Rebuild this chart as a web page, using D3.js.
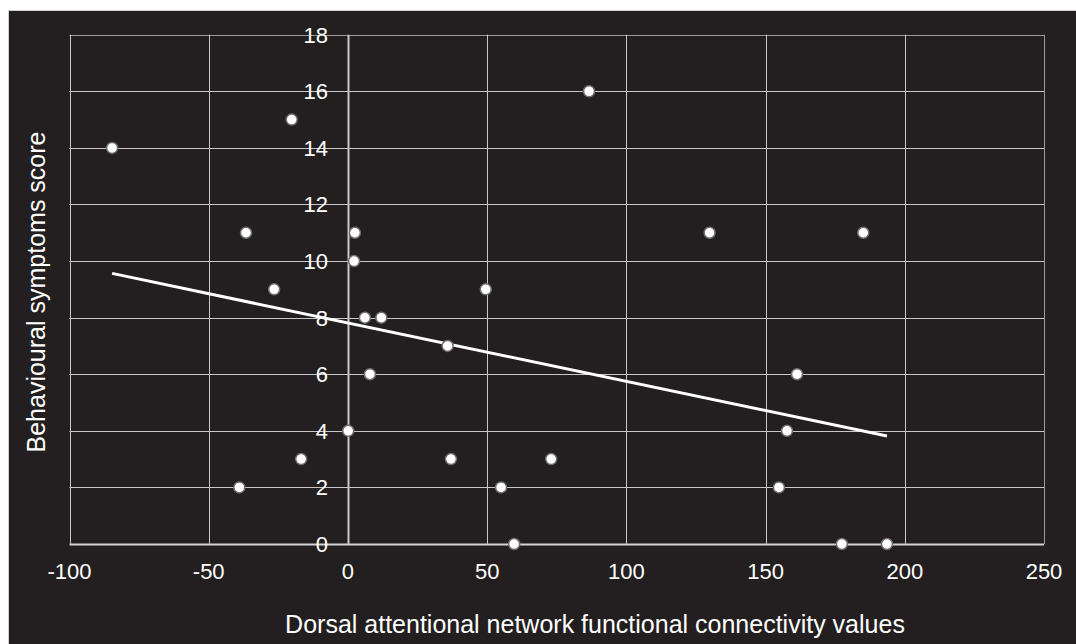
<!DOCTYPE html>
<html>
<head>
<meta charset="utf-8">
<script src="https://cdn.jsdelivr.net/npm/d3@7"></script>
<style>
  body { margin: 0; background: #fff; }
  svg { display: block; }
  text { font-family: "Liberation Sans", Arial, sans-serif; fill: #fff; }
</style>
</head>
<body>
<div id="chart"></div>
<script>
// connectivity values (x) and behavioural symptoms score (y)
var connectivity = [-84.7, -20.2, -36.6, -26.5, -39, -16.8, 0.1, 2.2, 2.5, 6.1, 12, 7.9, 35.8,
	37, 49.5, 55, 59.7, 73, 86.6, 129.9, 154.8, 157.7, 161.3, 177.4, 185.1, 193.6]
var symptoms = [14, 15, 11, 9, 2, 3, 4, 10, 11, 8, 8, 6, 7,
	3, 9, 2, 0, 3, 16, 11, 2, 4, 6, 0, 11, 0]
var xTicks = [-100, -50, 0, 50, 100, 150, 200, 250]
var yTicks = [0, 2, 4, 6, 8, 10, 12, 14, 16, 18]

var w = 1076, h = 644
var svg = d3.select("#chart").append("svg")
	.attr("width", w)
	.attr("height", h)

// dark panel
svg.append("rect")
	.attr("x", 8.5).attr("y", 10.5)
	.attr("width", w).attr("height", h)
	.attr("fill", "#231f20")
	.attr("stroke", "#cfcfcf")

var x = d3.scaleLinear().domain([-100, 250]).range([69.5, 1044])
var y = d3.scaleLinear().domain([0, 18]).range([544, 34.7])

var g = svg.append("g")

// grid lines
g.selectAll(".hgrid").data(yTicks).enter().append("line")
	.attr("x1", x(-100)).attr("x2", x(250))
	.attr("y1", d => Math.round(y(d)) + 0.5).attr("y2", d => Math.round(y(d)) + 0.5)
	.attr("stroke", d => d == 0 ? "#d4d4d4" : (d == 18 ? "#9a9a9a" : "#c8c8c8"))
	.attr("stroke-width", d => d == 0 ? 2 : 1)

g.selectAll(".vgrid").data(xTicks).enter().append("line")
	.attr("y1", y(18)).attr("y2", y(0))
	.attr("x1", d => Math.round(x(d)) + 0.5).attr("x2", d => Math.round(x(d)) + 0.5)
	.attr("stroke", d => d == 250 ? "#9a9a9a" : "#c8c8c8")
	.attr("stroke-width", d => d == 0 ? 2 : 1)

// tick labels
g.selectAll(".ylab").data(yTicks).enter().append("text")
	.attr("x", x(0) - 20)
	.attr("y", d => y(d) + 8)
	.attr("text-anchor", "end")
	.style("font-size", "22px")
	.text(d => d)

g.selectAll(".xlab").data(xTicks).enter().append("text")
	.attr("x", d => x(d))
	.attr("y", 579)
	.attr("text-anchor", "middle")
	.style("font-size", "22px")
	.text(d => d)

// axis titles
svg.append("text")
	.attr("x", 595)
	.attr("y", 633)
	.attr("text-anchor", "middle")
	.style("font-size", "25px")
	.text("Dorsal attentional network functional connectivity values")

svg.append("text")
	.attr("transform", "translate(45,292) rotate(-90)")
	.attr("text-anchor", "middle")
	.style("font-size", "25px")
	.text("Behavioural symptoms score")

// linear regression
var mx = d3.mean(connectivity), my = d3.mean(symptoms)
var sxy = d3.sum(connectivity, (v, i) => (v - mx) * (symptoms[i] - my))
var sxx = d3.sum(connectivity, v => (v - mx) * (v - mx))
var slope = sxy / sxx, icpt = my - slope * mx
var ext = d3.extent(connectivity)

g.append("line")
	.attr("x1", x(ext[0])).attr("y1", y(icpt + slope * ext[0]))
	.attr("x2", x(ext[1])).attr("y2", y(icpt + slope * ext[1]))
	.attr("stroke", "#fff")
	.attr("stroke-width", 3)

// points
g.selectAll(".dot").data(connectivity).enter().append("circle")
	.attr("cx", d => x(d))
	.attr("cy", (d, i) => y(symptoms[i]))
	.attr("r", 5.5)
	.attr("fill", "#fff")
	.attr("stroke", "#6e6e6e")
	.attr("stroke-width", 1.5)
</script>
</body>
</html>
